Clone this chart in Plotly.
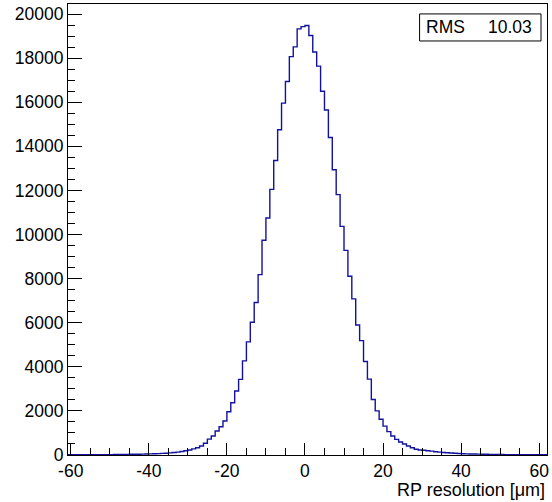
import numpy as np
import plotly.graph_objects as go

# Histogram: unit-width bins, lower edge of first bin
bin_low = -61
counts = [
    # -61 .. -41
    8, 9, 10, 10, 11, 12, 13, 14, 15, 16, 17, 19, 21, 23, 25, 28, 31, 34, 37, 41, 46,
    # -40 .. -31
    51, 57, 64, 72, 82, 95, 110, 130, 160, 190,
    # -30 .. -21
    230, 280, 330, 410, 530, 720, 860, 1090, 1280, 1540,
    # -20 .. -11
    1960, 2370, 2900, 3430, 4270, 5130, 6020, 6920, 8180, 9740,
    # -10 .. -1
    10750, 12050, 13360, 14750, 15960, 16940, 18070, 18510, 19330, 19430,
    # 0 .. 9
    19480, 19030, 18280, 17640, 16500, 15650, 14400, 12940, 11810, 10370,
    # 10 .. 19
    9280, 8110, 7080, 5900, 5190, 4240, 3440, 2520, 2000, 1620,
    # 20 .. 28
    1310, 1060, 860, 710, 590, 500, 410, 330, 260,
    # 29 .. 61
    230, 215, 195, 175, 150, 130, 115, 100, 88, 78,
    68, 60, 53, 47, 42, 38, 34, 31, 28, 25,
    23, 21, 19, 17, 16, 15, 14, 13, 12, 11,
    10, 10, 9,
]
x_ticks = [-60, -40, -20, 0, 20, 40, 60]
y_ticks = [0, 2000, 4000, 6000, 8000, 10000, 12000, 14000, 16000, 18000, 20000]
rms_label = "RMS"
rms_value = "10.03"
x_title = "RP resolution [μm]"

edges = bin_low + np.arange(len(counts) + 1)
ys = list(counts) + [counts[-1]]

FONT = "Liberation Sans, Arial, Helvetica, sans-serif"

fig = go.Figure()
fig.add_trace(go.Scatter(
    x=edges, y=ys, mode="lines", line_shape="hv",
    line=dict(color="#12129e", width=1.4), hoverinfo="skip", showlegend=False,
))

fig.update_layout(
    width=552, height=502,
    margin=dict(l=68, r=3, t=3, b=47),
    paper_bgcolor="white", plot_bgcolor="white",
    font=dict(family=FONT, size=17, color="black"),
    showlegend=False,
)
fig.update_xaxes(
    range=[-60.7, 62.0], tickvals=x_ticks, ticktext=[str(v) for v in x_ticks],
    ticks="inside", ticklen=12, tickcolor="black", tickwidth=1,
    minor=dict(dtick=5, tick0=0, ticks="inside", ticklen=7, tickcolor="black", tickwidth=1),
    showline=True, linecolor="black", linewidth=1, mirror=True,
    showgrid=False, zeroline=False,
    tickfont=dict(family=FONT, size=17.5, color="black"),
)
fig.update_yaxes(
    range=[0, 20457], tickvals=y_ticks, ticktext=[str(v) for v in y_ticks],
    ticks="inside", ticklen=14, tickcolor="black", tickwidth=1,
    minor=dict(dtick=500, tick0=0, ticks="inside", ticklen=7, tickcolor="black", tickwidth=1),
    showline=True, linecolor="black", linewidth=1, mirror=True,
    showgrid=False, zeroline=False,
    tickfont=dict(family=FONT, size=17.5, color="black"),
)

# Stats box
fig.add_shape(type="rect", xref="paper", yref="paper",
              x0=0.734, x1=0.9875, y0=0.918, y1=0.978,
              line=dict(color="black", width=1), fillcolor="white")
fig.add_annotation(xref="paper", yref="paper", x=0.744, y=0.948,
                   text=rms_label, showarrow=False, xanchor="left", yanchor="middle",
                   font=dict(family=FONT, size=17.5, color="black"))
fig.add_annotation(xref="paper", yref="paper", x=0.9725, y=0.948,
                   text=rms_value, showarrow=False, xanchor="right", yanchor="middle",
                   font=dict(family=FONT, size=17.5, color="black"))
# Axis title (right aligned, ROOT style)
fig.add_annotation(xref="paper", yref="paper", x=1.0, y=-0.077,
                   text=x_title, showarrow=False, xanchor="right", yanchor="middle",
                   font=dict(family=FONT, size=18, color="black"))

fig.write_html("out.html")
